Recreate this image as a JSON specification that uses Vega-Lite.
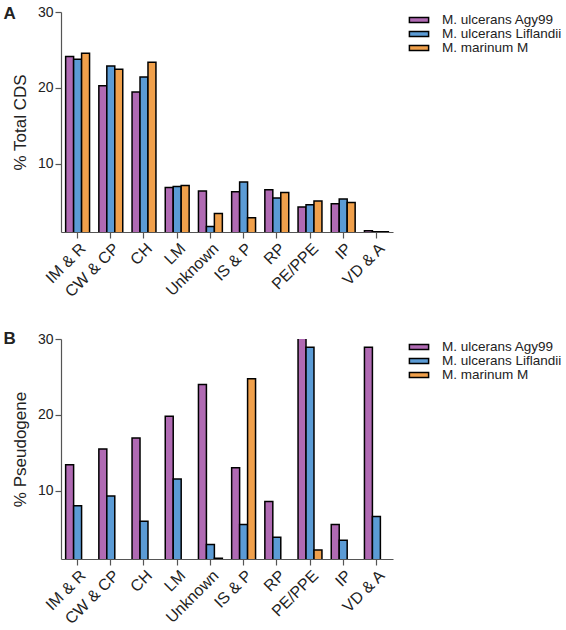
{
  "$schema": "https://vega.github.io/schema/vega-lite/v6.json",
  "background": "white",
  "padding": {"left": 3, "top": 5, "right": 1, "bottom": 5},
  "config": {
    "font": "Liberation Sans",
    "view": {"stroke": null},
    "axis": {"domainColor": "#555", "tickColor": "#555", "labelColor": "#222", "titleColor": "#222", "labelFontSize": 14, "titleFontSize": 17, "titleFontWeight": "normal", "grid": false, "tickSize": 6, "labelPadding": 2, "domainWidth": 1.2, "tickWidth": 1.2},
    "axisX": {"labelFontSize": 16},
    "legend": {"labelFontSize": 13.5, "labelColor": "#222", "symbolType": "M-1.6,-0.4H1.6V0.4H-1.6Z", "symbolSize": 144, "symbolStrokeColor": "black", "symbolStrokeWidth": 1.5, "rowPadding": -1, "labelOffset": 16, "offset": 18, "padding": 1, "title": null},
    "title": {"fontSize": 17, "fontWeight": "bold", "anchor": "start", "frame": "bounds", "color": "#222"}
  },
  "datasets": {
    "cds": [
      {"category": "IM & R", "strain": "M. ulcerans Agy99", "value": 24.15},
      {"category": "IM & R", "strain": "M. ulcerans Liflandii", "value": 23.76},
      {"category": "IM & R", "strain": "M. marinum M", "value": 24.55},
      {"category": "CW & CP", "strain": "M. ulcerans Agy99", "value": 20.29},
      {"category": "CW & CP", "strain": "M. ulcerans Liflandii", "value": 22.88},
      {"category": "CW & CP", "strain": "M. marinum M", "value": 22.44},
      {"category": "CH", "strain": "M. ulcerans Agy99", "value": 19.45},
      {"category": "CH", "strain": "M. ulcerans Liflandii", "value": 21.43},
      {"category": "CH", "strain": "M. marinum M", "value": 23.36},
      {"category": "LM", "strain": "M. ulcerans Agy99", "value": 6.88},
      {"category": "LM", "strain": "M. ulcerans Liflandii", "value": 7.01},
      {"category": "LM", "strain": "M. marinum M", "value": 7.14},
      {"category": "Unknown", "strain": "M. ulcerans Agy99", "value": 6.4},
      {"category": "Unknown", "strain": "M. ulcerans Liflandii", "value": 1.74},
      {"category": "Unknown", "strain": "M. marinum M", "value": 3.45},
      {"category": "IS & P", "strain": "M. ulcerans Agy99", "value": 6.31},
      {"category": "IS & P", "strain": "M. ulcerans Liflandii", "value": 7.58},
      {"category": "IS & P", "strain": "M. marinum M", "value": 2.88},
      {"category": "RP", "strain": "M. ulcerans Agy99", "value": 6.57},
      {"category": "RP", "strain": "M. ulcerans Liflandii", "value": 5.48},
      {"category": "RP", "strain": "M. marinum M", "value": 6.22},
      {"category": "PE/PPE", "strain": "M. ulcerans Agy99", "value": 4.29},
      {"category": "PE/PPE", "strain": "M. ulcerans Liflandii", "value": 4.59},
      {"category": "PE/PPE", "strain": "M. marinum M", "value": 5.08},
      {"category": "IP", "strain": "M. ulcerans Agy99", "value": 4.73},
      {"category": "IP", "strain": "M. ulcerans Liflandii", "value": 5.34},
      {"category": "IP", "strain": "M. marinum M", "value": 4.9},
      {"category": "VD & A", "strain": "M. ulcerans Agy99", "value": 1.16},
      {"category": "VD & A", "strain": "M. ulcerans Liflandii", "value": 1.03},
      {"category": "VD & A", "strain": "M. marinum M", "value": 1.03}
    ],
    "pseudo": [
      {"category": "IM & R", "strain": "M. ulcerans Agy99", "value": 13.44},
      {"category": "IM & R", "strain": "M. ulcerans Liflandii", "value": 8.02},
      {"category": "CW & CP", "strain": "M. ulcerans Agy99", "value": 15.5},
      {"category": "CW & CP", "strain": "M. ulcerans Liflandii", "value": 9.3},
      {"category": "CH", "strain": "M. ulcerans Agy99", "value": 16.96},
      {"category": "CH", "strain": "M. ulcerans Liflandii", "value": 5.99},
      {"category": "LM", "strain": "M. ulcerans Agy99", "value": 19.82},
      {"category": "LM", "strain": "M. ulcerans Liflandii", "value": 11.54},
      {"category": "Unknown", "strain": "M. ulcerans Agy99", "value": 24.0},
      {"category": "Unknown", "strain": "M. ulcerans Liflandii", "value": 2.91},
      {"category": "Unknown", "strain": "M. marinum M", "value": 1.1},
      {"category": "IS & P", "strain": "M. ulcerans Agy99", "value": 13.04},
      {"category": "IS & P", "strain": "M. ulcerans Liflandii", "value": 5.55},
      {"category": "IS & P", "strain": "M. marinum M", "value": 24.76},
      {"category": "RP", "strain": "M. ulcerans Agy99", "value": 8.59},
      {"category": "RP", "strain": "M. ulcerans Liflandii", "value": 3.88},
      {"category": "PE/PPE", "strain": "M. ulcerans Agy99", "value": 30.5},
      {"category": "PE/PPE", "strain": "M. ulcerans Liflandii", "value": 28.9},
      {"category": "PE/PPE", "strain": "M. marinum M", "value": 2.2},
      {"category": "IP", "strain": "M. ulcerans Agy99", "value": 5.55},
      {"category": "IP", "strain": "M. ulcerans Liflandii", "value": 3.48},
      {"category": "VD & A", "strain": "M. ulcerans Agy99", "value": 28.9},
      {"category": "VD & A", "strain": "M. ulcerans Liflandii", "value": 6.6}
    ]
  },
  "resolve": {"scale": {"color": "independent"}, "legend": {"color": "independent"}},
  "spacing": 30,
  "vconcat": [
    {
      "title": {"text": "A", "dy": 22, "dx": -8},
      "data": {"name": "cds"},
      "width": 332,
      "height": 220,
      "mark": {"type": "bar", "stroke": "black", "strokeWidth": 1.5, "clip": true},
      "encoding": {
        "x": {"field": "category", "type": "nominal", "sort": null, "scale": {"paddingInner": 0.28, "paddingOuter": 0.14}, "axis": {"title": null, "labelAngle": -45}},
        "xOffset": {"field": "strain", "type": "nominal", "scale": {"domain": ["M. ulcerans Agy99", "M. ulcerans Liflandii", "M. marinum M"], "paddingInner": 0, "paddingOuter": 0}},
        "y": {"field": "value", "type": "quantitative", "scale": {"domain": [1, 30], "zero": false, "nice": false}, "axis": {"title": "% Total CDS", "values": [10, 20, 30], "titlePadding": 8}},
        "color": {"field": "strain", "type": "nominal", "scale": {"domain": ["M. ulcerans Agy99", "M. ulcerans Liflandii", "M. marinum M"], "range": ["#B06AB3", "#5B9BD5", "#F0A04B"]}, "legend": {"title": null}}
      }
    },
    {
      "title": {"text": "B", "dy": 20, "dx": -8},
      "data": {"name": "pseudo"},
      "width": 332,
      "height": 220,
      "mark": {"type": "bar", "stroke": "black", "strokeWidth": 1.5, "clip": true},
      "encoding": {
        "x": {"field": "category", "type": "nominal", "sort": ["IM & R", "CW & CP", "CH", "LM", "Unknown", "IS & P", "RP", "PE/PPE", "IP", "VD & A"], "scale": {"paddingInner": 0.28, "paddingOuter": 0.14}, "axis": {"title": null, "labelAngle": -45}},
        "xOffset": {"field": "strain", "type": "nominal", "scale": {"domain": ["M. ulcerans Agy99", "M. ulcerans Liflandii", "M. marinum M"], "paddingInner": 0, "paddingOuter": 0}},
        "y": {"field": "value", "type": "quantitative", "scale": {"domain": [1, 30], "zero": false, "nice": false}, "axis": {"title": "% Pseudogene", "values": [10, 20, 30], "titlePadding": 8}},
        "color": {"field": "strain", "type": "nominal", "scale": {"domain": ["M. ulcerans Agy99", "M. ulcerans Liflandii", "M. marinum M"], "range": ["#B06AB3", "#5B9BD5", "#F0A04B"]}, "legend": {"title": null}}
      }
    }
  ]
}
